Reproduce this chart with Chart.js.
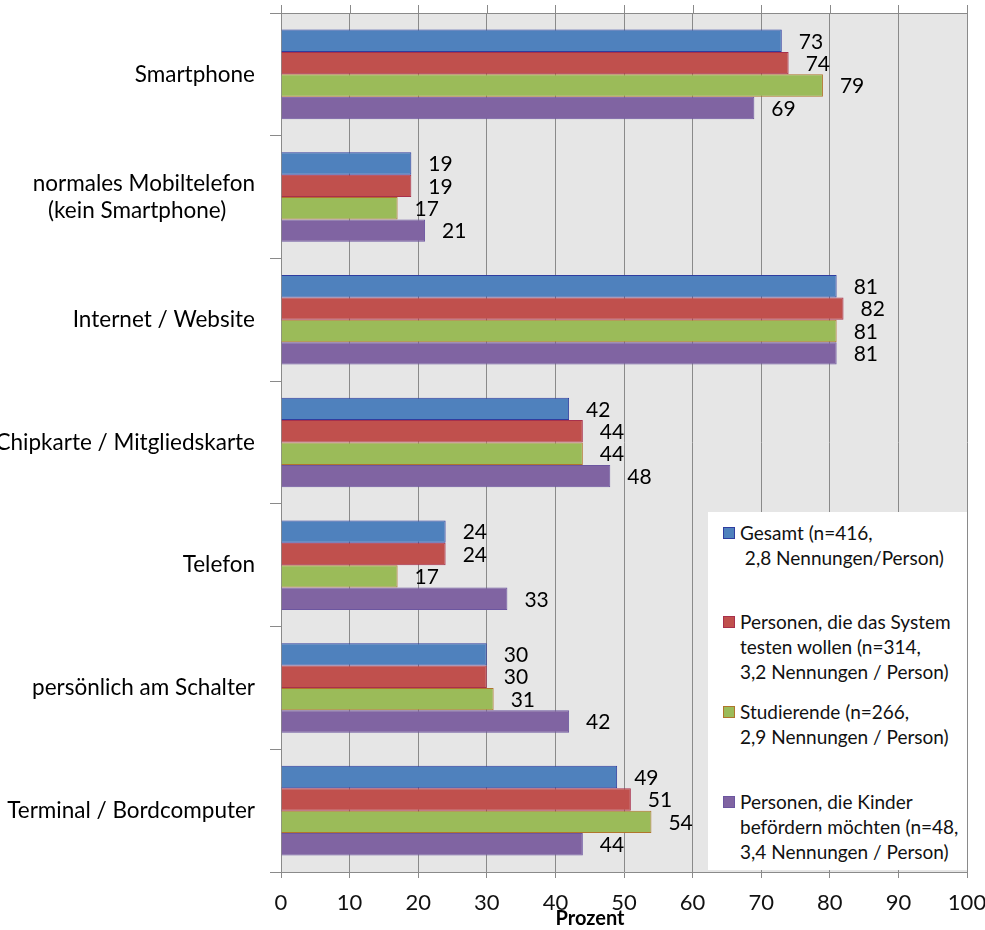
<!DOCTYPE html>
<html>
<head>
<meta charset="utf-8">
<script src="https://cdn.jsdelivr.net/npm/chart.js@4"></script>
<style>
  body { margin: 0; background: #fff; }
  #wrap { position: relative; width: 985px; height: 930px; }
  #legend {
    position: absolute; left: 708px; top: 512px; width: 259px; height: 358px;
    background: #fff; font-family: Lato, sans-serif; font-size: 19px; line-height: 25px; color: #111;
  }
  .item { position: absolute; left: 32px; white-space: pre; }
  .item i { position: absolute; left: -17px; top: 7px; width: 10px; height: 10px; border: 1px solid; }
  .item:nth-child(1) { top: 8px; }
  .item:nth-child(2) { top: 97px; }
  .item:nth-child(3) { top: 187px; }
  .item:nth-child(4) { top: 277px; }
</style>
</head>
<body>
<div id="wrap">
  <canvas id="chart" width="985" height="930"></canvas>
  <div id="legend"></div>
</div>
<script>
const categories = [
    'Smartphone',
    ['normales Mobiltelefon', '(kein Smartphone)     '],
    'Internet / Website',
    'Chipkarte / Mitgliedskarte',
    'Telefon',
    'persönlich am Schalter',
    'Terminal / Bordcomputer'
];
const gesamt      = [73, 19, 81, 42, 24, 30, 49];
const testen      = [74, 19, 82, 44, 24, 30, 51];
const studierende = [79, 17, 81, 44, 17, 31, 54];
const kinder      = [69, 21, 81, 48, 33, 42, 44];

const legendLabels = [
    'Gesamt (n=416,\n 2,8 Nennungen/Person)',
    'Personen, die das System\ntesten wollen (n=314,\n3,2 Nennungen / Person)',
    'Studierende (n=266,\n2,9 Nennungen / Person)',
    'Personen, die Kinder\nbefördern möchten (n=48,\n3,4 Nennungen / Person)'
];

const fills   = ['#4F81BD', '#C0504D', '#9BBB59', '#8064A2'];
const borders = ['#2f3da0', '#a8304c', '#b0752c', '#6c56a0'];
const gridColor = '#8a8a8a';

const series = [gesamt, testen, studierende, kinder];
const datasets = series.map((data, i) => ({
    label: legendLabels[i],
    data: data,
    backgroundColor: fills[i],
    borderColor: borders[i],
    borderWidth: 1,
    categoryPercentage: 0.73,
    barPercentage: 1.0
}));

const plotBackground = {
    id: 'plotBackground',
    beforeDraw(chart) {
        const { ctx, chartArea: a } = chart;
        ctx.save();
        ctx.fillStyle = '#e6e6e6';
        ctx.fillRect(a.left, a.top, a.right - a.left, a.bottom - a.top);
        ctx.restore();
    }
};

// top edge with small tick marks, like the mirrored axis in the original
const topEdge = {
    id: 'topEdge',
    afterDraw(chart) {
        const { ctx, chartArea: a } = chart;
        const x = chart.scales.x;
        ctx.save();
        ctx.strokeStyle = gridColor;
        ctx.lineWidth = 1;
        ctx.beginPath();
        ctx.moveTo(a.left, a.top + 0.5);
        ctx.lineTo(a.right, a.top + 0.5);
        x.ticks.forEach(t => {
            const px = Math.round(x.getPixelForValue(t.value)) + 0.5;
            ctx.moveTo(px, a.top - 8);
            ctx.lineTo(px, a.top);
        });
        ctx.stroke();
        ctx.restore();
    }
};

const valueLabels = {
    id: 'valueLabels',
    afterDatasetsDraw(chart) {
        const ctx = chart.ctx;
        ctx.save();
        ctx.font = '21px Lato, sans-serif';
        ctx.fillStyle = '#000';
        ctx.textAlign = 'left';
        ctx.textBaseline = 'middle';
        chart.data.datasets.forEach((ds, i) => {
            chart.getDatasetMeta(i).data.forEach((bar, j) => {
                ctx.fillText(String(ds.data[j]), bar.x + 17, bar.y + 1);
            });
        });
        ctx.restore();
    }
};

const axisTitle = {
    id: 'axisTitle',
    afterDraw(chart) {
        const ctx = chart.ctx;
        ctx.save();
        ctx.font = 'bold 20px Lato, sans-serif';
        ctx.fillStyle = '#000';
        ctx.textAlign = 'center';
        ctx.textBaseline = 'middle';
        ctx.fillText('Prozent', 590, 919);
        ctx.restore();
    }
};

new Chart(document.getElementById('chart').getContext('2d'), {
    type: 'bar',
    data: { labels: categories, datasets: datasets },
    options: {
        indexAxis: 'y',
        responsive: false,
        animation: false,
        layout: { padding: { top: 13, right: 18, left: 0, bottom: 0 } },
        plugins: { legend: { display: false }, tooltip: { enabled: false } },
        scales: {
            x: {
                min: 0,
                max: 100,
                ticks: { stepSize: 10, font: { family: 'Lato', size: 22 }, color: '#111', padding: 12 },
                grid: { color: gridColor, tickLength: 6 },
                border: { color: gridColor },
                afterFit(scale) {
                    scale.height = 58;
                    scale.paddingLeft = 0;
                    scale.paddingRight = 0;
                }
            },
            y: {
                ticks: { font: { family: 'Lato', size: 22.5 }, color: '#000', padding: 15 },
                grid: { drawOnChartArea: false, color: gridColor, tickLength: 11 },
                border: { color: gridColor },
                afterFit(scale) {
                    scale.width = 281;
                    scale.paddingTop = 0;
                    scale.paddingBottom = 0;
                }
            }
        }
    },
    plugins: [plotBackground, topEdge, valueLabels, axisTitle]
});

const legend = document.getElementById('legend');
datasets.forEach(ds => {
    const item = document.createElement('div');
    item.className = 'item';
    const box = document.createElement('i');
    box.style.background = ds.backgroundColor;
    box.style.borderColor = ds.borderColor;
    item.appendChild(box);
    item.appendChild(document.createTextNode(ds.label));
    legend.appendChild(item);
});
</script>
</body>
</html>
